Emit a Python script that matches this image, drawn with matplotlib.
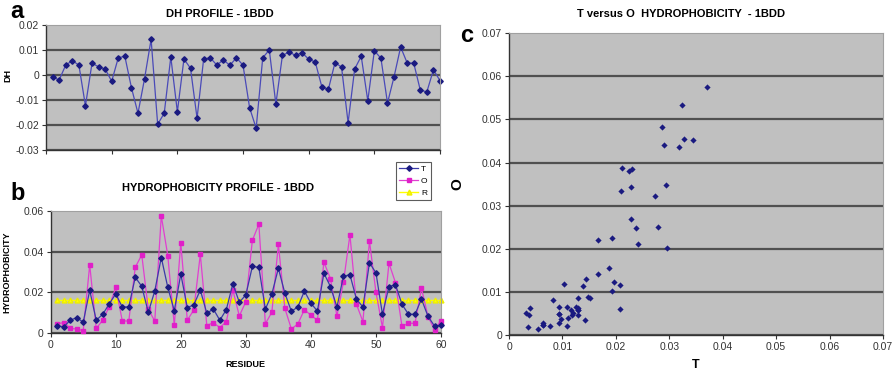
import numpy as np
import matplotlib.pyplot as plt

plt.rcParams['font.family'] = ['Liberation Sans', 'DejaVu Sans']

# posiciones de residuo
residuo = list(range(1, 61))

# perfil DH - 1BDD
dh = [-0.0008, -0.002, 0.004, 0.0057, 0.004, -0.0123, 0.0047, 0.0033, 0.0024, -0.0025,
      0.0069, 0.0075, -0.005, -0.0153, -0.0015, 0.0143, -0.0197, -0.0153, 0.0072, -0.0147,
      0.0064, 0.0027, -0.0173, 0.0064, 0.0069, 0.004, 0.006, 0.0039, 0.0069, 0.0039,
      -0.0131, -0.0213, 0.0069, 0.01, -0.0116, 0.0079, 0.0091, 0.0079, 0.0089, 0.0063,
      0.0052, -0.0047, -0.0057, 0.0049, 0.0032, -0.0191, 0.0024, 0.0075, -0.0103, 0.0097,
      0.0067, -0.0112, -0.0007, 0.0112, 0.0048, 0.0047, -0.0061, -0.0067, 0.0021, -0.0023]

# hidrofobicidad T
hyd_t = [0.0038, 0.0031, 0.0064, 0.0077, 0.0054, 0.021, 0.0064, 0.0093, 0.0144, 0.0193,
         0.0129, 0.0129, 0.0274, 0.023, 0.0103, 0.0207, 0.0371, 0.0225, 0.0111, 0.029,
         0.0126, 0.0139, 0.0212, 0.0098, 0.0119, 0.0064, 0.0116, 0.0242, 0.0152, 0.0188,
         0.0327, 0.0323, 0.0118, 0.0193, 0.0318, 0.0196, 0.0108, 0.0129, 0.0207, 0.0147,
         0.0109, 0.0294, 0.0229, 0.0129, 0.0279, 0.0287, 0.0167, 0.0129, 0.0345, 0.0296,
         0.0093, 0.0229, 0.0238, 0.0142, 0.0093, 0.0093, 0.0167, 0.0083, 0.0036, 0.0039]

# hidrofobicidad O
hyd_o = [0.0047, 0.0052, 0.0024, 0.0021, 0.0013, 0.0335, 0.0024, 0.0064, 0.013, 0.0225,
         0.0062, 0.0059, 0.0323, 0.0384, 0.0118, 0.006, 0.0575, 0.038, 0.0039, 0.0441,
         0.0064, 0.0114, 0.0387, 0.0038, 0.0052, 0.0028, 0.0057, 0.0212, 0.0085, 0.0155,
         0.0455, 0.0534, 0.0047, 0.0103, 0.0436, 0.0122, 0.0021, 0.0046, 0.0116, 0.0088,
         0.0064, 0.0348, 0.0268, 0.0085, 0.025, 0.0482, 0.0142, 0.0057, 0.0452, 0.0201,
         0.0028, 0.0343, 0.0248, 0.0034, 0.0049, 0.0049, 0.022, 0.0082, 0.0018, 0.0062]

# referencia R
hyd_r = [0.0162] * 60

GRIS = '#c0c0c0'
AZUL = '#1a1a80'


def estilo_excel(ax):
    """fondo gris, rejilla horizontal oscura, como en excel"""
    ax.set_facecolor(GRIS)
    ax.grid(axis='y', color='#505050', linewidth=1.6)
    ax.set_axisbelow(True)
    for lado in ['top', 'right']:
        ax.spines[lado].set_color('#a0a0a0')
        ax.spines[lado].set_linewidth(0.8)
    for lado in ['left', 'bottom']:
        ax.spines[lado].set_color('#333333')
        ax.spines[lado].set_linewidth(1.0)
    ax.tick_params(direction='out', length=3, width=0.8, labelsize=7.5,
                   colors='#333333', pad=2)


def sin_rejilla_arriba(ax):
    """la linea de rejilla del borde superior no se ve en el original"""
    lineas = ax.get_ygridlines()
    lineas[-1].set_visible(False)


fig = plt.figure(figsize=(8.94, 3.75), dpi=100)

# panel a: perfil DH
ax1 = fig.add_axes([0.0515, 0.6, 0.4407, 0.3333])
estilo_excel(ax1)
ax1.plot(residuo, dh, color='#4a4ab8', linewidth=0.9, marker='D',
         markersize=2.8, markerfacecolor=AZUL, markeredgecolor=AZUL, clip_on=False)
ax1.set_xlim(0, 60)
ax1.set_ylim(-0.03, 0.02)
ax1.set_xticks(range(0, 61, 10))
ax1.set_xticklabels([])
ax1.set_yticks([-0.03, -0.02, -0.01, 0, 0.01, 0.02])
ax1.set_yticklabels(['-0.03', '-0.02', '-0.01', '0', '0.01', '0.02'])
ax1.set_ylabel('DH', fontsize=6.5, fontweight='bold')
ax1.yaxis.set_label_coords(-0.085, 0.6)
ax1.set_title('DH PROFILE - 1BDD', fontsize=8, fontweight='bold', pad=6, x=0.44)
sin_rejilla_arriba(ax1)

# panel b: perfil de hidrofobicidad
ax2 = fig.add_axes([0.0567, 0.1112, 0.4366, 0.3269])
estilo_excel(ax2)
ax2.plot(residuo, hyd_r, color='#ffff00', linewidth=1.0, marker='^',
         markersize=3.5, markerfacecolor='#ffff00', markeredgecolor='#eeee00', label='R',
         zorder=2, clip_on=False)
ax2.plot(residuo, hyd_o, color='#e040d0', linewidth=0.9, marker='s',
         markersize=3.2, markerfacecolor='#e020c8', markeredgecolor='#e020c8', label='O',
         zorder=3, clip_on=False)
ax2.plot(residuo, hyd_t, color='#3a3aa8', linewidth=0.9, marker='D',
         markersize=2.8, markerfacecolor=AZUL, markeredgecolor=AZUL, label='T',
         zorder=4, clip_on=False)
ax2.set_xlim(0, 60)
ax2.set_ylim(0, 0.06)
ax2.set_xticks(range(0, 61, 10))
ax2.set_yticks([0, 0.02, 0.04, 0.06])
ax2.set_yticklabels(['0', '0.02', '0.04', '0.06'])
ax2.set_xlabel('RESIDUE', fontsize=6.5, fontweight='bold', labelpad=7)
ax2.set_ylabel('HYDROPHOBICITY', fontsize=6.5, fontweight='bold')
ax2.yaxis.set_label_coords(-0.1, 0.5)
ax2.set_title('HYDROPHOBICITY PROFILE - 1BDD', fontsize=8, fontweight='bold',
              pad=14, x=0.43)
sin_rejilla_arriba(ax2)
h, l = ax2.get_legend_handles_labels()
leg = fig.legend(h[::-1], l[::-1], loc='upper left',
                 bbox_to_anchor=(396 / 894, 1 - 162 / 375), fontsize=6,
                 frameon=True, fancybox=False, edgecolor='#333333',
                 handlelength=2.2, handletextpad=0.4, borderpad=0.4,
                 labelspacing=0.5, borderaxespad=0)
leg.get_frame().set_linewidth(0.8)

# panel c: T frente a O
ax3 = fig.add_axes([0.5694, 0.1067, 0.4183, 0.8045])
estilo_excel(ax3)
ax3.scatter(hyd_t, hyd_o, marker='D', s=10, color=AZUL, linewidths=0, zorder=3)
ax3.set_xlim(0, 0.07)
ax3.set_ylim(0, 0.07)
ax3.set_xticks([0, 0.01, 0.02, 0.03, 0.04, 0.05, 0.06, 0.07])
ax3.set_xticklabels(['0', '0.01', '0.02', '0.03', '0.04', '0.05', '0.06', '0.07'])
ax3.set_yticks([0, 0.01, 0.02, 0.03, 0.04, 0.05, 0.06, 0.07])
ax3.set_yticklabels(['0', '0.01', '0.02', '0.03', '0.04', '0.05', '0.06', '0.07'])
ax3.set_xlabel('T', fontsize=9, fontweight='bold', labelpad=5)
ax3.set_ylabel('O', fontsize=11, fontweight='bold')
ax3.yaxis.set_label_coords(-0.12, 0.5)
ax3.set_title('T versus O  HYDROPHOBICITY  - 1BDD', fontsize=8, fontweight='bold',
              pad=12, x=0.46)
sin_rejilla_arriba(ax3)

# letras de los paneles
fig.text(10 / 894, 1 - 12 / 375, 'a', fontsize=17, fontweight='bold', va='center')
fig.text(10 / 894, 1 - 193 / 375, 'b', fontsize=17, fontweight='bold', va='center')
fig.text(460 / 894, 1 - 36 / 375, 'c', fontsize=17, fontweight='bold', va='center')

fig.savefig('out.png', dpi=100)
